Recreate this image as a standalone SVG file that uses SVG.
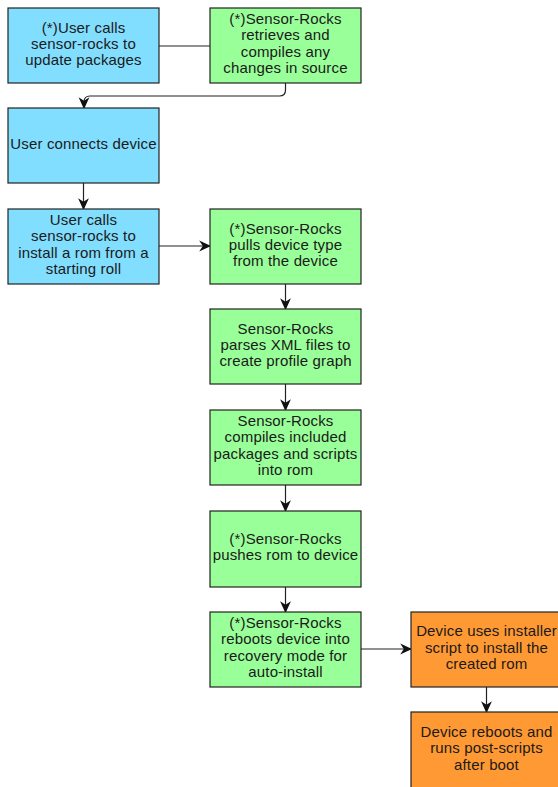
<svg xmlns="http://www.w3.org/2000/svg" width="558" height="787" viewBox="0 0 558 787">
<style>
.box{stroke:#222;stroke-width:1.2}
.blue{fill:#82DEFF}
.green{fill:#99FF99}
.orange{fill:#FF9933}
text{font-family:"Liberation Sans",Arial,sans-serif;font-size:15px;letter-spacing:0.15px;fill:#1a1a1a;text-anchor:middle}
.c{fill:none;stroke:#222;stroke-width:1.2}
</style>
<defs>
<marker id="ah" markerUnits="userSpaceOnUse" markerWidth="12" markerHeight="12" viewBox="0 0 10 10" refX="9" refY="5" orient="auto">
<path d="M0,0.5 L10,5 L0,9.5 L3,5 z" fill="#111"/>
</marker>
</defs>
<g id="connectors">
<path class="c" d="M159,46 H210"/>
<path class="c" d="M285.5,83 V90 Q285.5,96 279.5,96 H90 Q84,96 84,102 V108" marker-end="url(#ah)"/>
<path class="c" d="M83.5,183 V209" marker-end="url(#ah)"/>
<path class="c" d="M159,246 H210" marker-end="url(#ah)"/>
<path class="c" d="M285.5,284 V309" marker-end="url(#ah)"/>
<path class="c" d="M285.5,384 V410" marker-end="url(#ah)"/>
<path class="c" d="M285.5,485 V511" marker-end="url(#ah)"/>
<path class="c" d="M285.5,587 V612" marker-end="url(#ah)"/>
<path class="c" d="M361,649 H411" marker-end="url(#ah)"/>
<path class="c" d="M486.5,687 V712" marker-end="url(#ah)"/>
</g>
<g id="n1">
<rect class="box blue" x="8" y="8" width="151" height="75"/>
<text x="83.5" y="33">(*)User calls</text>
<text x="83.5" y="49">sensor-rocks to</text>
<text x="83.5" y="65">update packages</text>
</g>
<g id="n2">
<rect class="box green" x="210" y="8" width="151" height="75"/>
<text x="285.5" y="24">(*)Sensor-Rocks</text>
<text x="285.5" y="40">retrieves and</text>
<text x="285.5" y="57">compiles any</text>
<text x="285.5" y="73">changes in source</text>
</g>
<g id="n3">
<rect class="box blue" x="8" y="108" width="151" height="75"/>
<text x="83.5" y="149">User connects device</text>
</g>
<g id="n4">
<rect class="box blue" x="8" y="209" width="151" height="75"/>
<text x="83.5" y="225">User calls</text>
<text x="83.5" y="241">sensor-rocks to</text>
<text x="83.5" y="258">install a rom from a</text>
<text x="83.5" y="274">starting roll</text>
</g>
<g id="n5">
<rect class="box green" x="210" y="209" width="151" height="75"/>
<text x="285.5" y="234">(*)Sensor-Rocks</text>
<text x="285.5" y="250">pulls device type</text>
<text x="285.5" y="266">from the device</text>
</g>
<g id="n6">
<rect class="box green" x="210" y="309" width="151" height="75"/>
<text x="285.5" y="334">Sensor-Rocks</text>
<text x="285.5" y="350">parses XML files to</text>
<text x="285.5" y="366">create profile graph</text>
</g>
<g id="n7">
<rect class="box green" x="210" y="410" width="151" height="75"/>
<text x="285.5" y="426">Sensor-Rocks</text>
<text x="285.5" y="442">compiles included</text>
<text x="285.5" y="459">packages and scripts</text>
<text x="285.5" y="475">into rom</text>
</g>
<g id="n8">
<rect class="box green" x="210" y="511" width="151" height="76"/>
<text x="285.5" y="544">(*)Sensor-Rocks</text>
<text x="285.5" y="560">pushes rom to device</text>
</g>
<g id="n9">
<rect class="box green" x="210" y="612" width="151" height="75"/>
<text x="285.5" y="628">(*)Sensor-Rocks</text>
<text x="285.5" y="644">reboots device into</text>
<text x="285.5" y="661">recovery mode for</text>
<text x="285.5" y="677">auto-install</text>
</g>
<g id="n10">
<rect class="box orange" x="411" y="612" width="151" height="75"/>
<text x="486.5" y="636">Device uses installer</text>
<text x="486.5" y="653">script to install the</text>
<text x="486.5" y="669">created rom</text>
</g>
<g id="n11">
<rect class="box orange" x="411" y="712" width="151" height="80"/>
<text x="486.5" y="737">Device reboots and</text>
<text x="486.5" y="753">runs post-scripts</text>
<text x="486.5" y="770">after boot</text>
</g>
</svg>
